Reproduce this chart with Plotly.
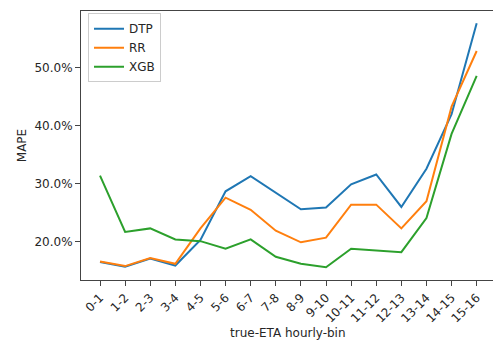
import plotly.graph_objects as go

categories = ["0-1", "1-2", "2-3", "3-4", "4-5", "5-6", "6-7", "7-8", "8-9",
              "9-10", "10-11", "11-12", "12-13", "13-14", "14-15", "15-16"]
dtp = [16.5, 15.7, 17.1, 15.9, 20.3, 28.7, 31.3, 28.4, 25.6, 25.9, 29.9, 31.6, 26.0, 32.6, 42.0, 57.7]
rr = [16.6, 15.8, 17.2, 16.2, 22.3, 27.6, 25.5, 21.9, 19.9, 20.7, 26.4, 26.4, 22.3, 27.0, 43.3, 52.9]
xgb = [31.4, 21.7, 22.3, 20.4, 20.1, 18.8, 20.4, 17.4, 16.2, 15.6, 18.8, 18.5, 18.2, 24.1, 38.6, 48.6]
y_ticks = [0.2, 0.3, 0.4, 0.5]

series = [("DTP", dtp, "#1f77b4"), ("RR", rr, "#ff7f0e"), ("XGB", xgb, "#2ca02c")]

fig = go.Figure()
for name, vals, color in series:
    fig.add_trace(go.Scatter(
        x=categories, y=[v / 100 for v in vals], name=name, mode="lines",
        line=dict(color=color, width=2),
    ))

axis_font = dict(family="DejaVu Sans", size=12, color="#262626")
fig.update_layout(
    width=493, height=341,
    margin=dict(l=81, r=0, t=11, b=61),
    paper_bgcolor="white", plot_bgcolor="white",
    font=dict(family="DejaVu Sans", size=12, color="#262626"),
    showlegend=True,
    legend=dict(
        x=0.017, y=0.992, xanchor="left", yanchor="top",
        bgcolor="white", bordercolor="#cccccc", borderwidth=1,
        font=dict(family="DejaVu Sans", size=12, color="#262626"),
        tracegroupgap=0, itemwidth=30,
    ),
    xaxis=dict(
        type="category", range=[-0.757, 15.65],
        showline=True, linecolor="#444444", linewidth=1, mirror=True,
        showgrid=False, zeroline=False,
        ticks="outside", ticklen=5, tickcolor="#444444", tickwidth=1,
        tickangle=-45, tickfont=axis_font,
    ),
    yaxis=dict(
        range=[0.134, 0.598],
        tickvals=y_ticks, tickformat=".1%",
        showline=True, linecolor="#444444", linewidth=1, mirror=False,
        showgrid=False, zeroline=False,
        ticks="outside", ticklen=5, tickcolor="#444444", tickwidth=1,
        tickfont=axis_font,
    ),
    annotations=[
        dict(text="true-ETA hourly-bin", xref="paper", yref="paper",
             x=(287.5 - 81) / 412, y=-(333 - 280) / 269,
             xanchor="center", yanchor="middle", showarrow=False,
             font=axis_font),
        dict(text="MAPE", xref="paper", yref="paper",
             x=(21.7 - 81) / 412, y=0.5, textangle=-90,
             xanchor="center", yanchor="middle", showarrow=False,
             font=axis_font),
    ],
)

fig.write_html("out.html")
